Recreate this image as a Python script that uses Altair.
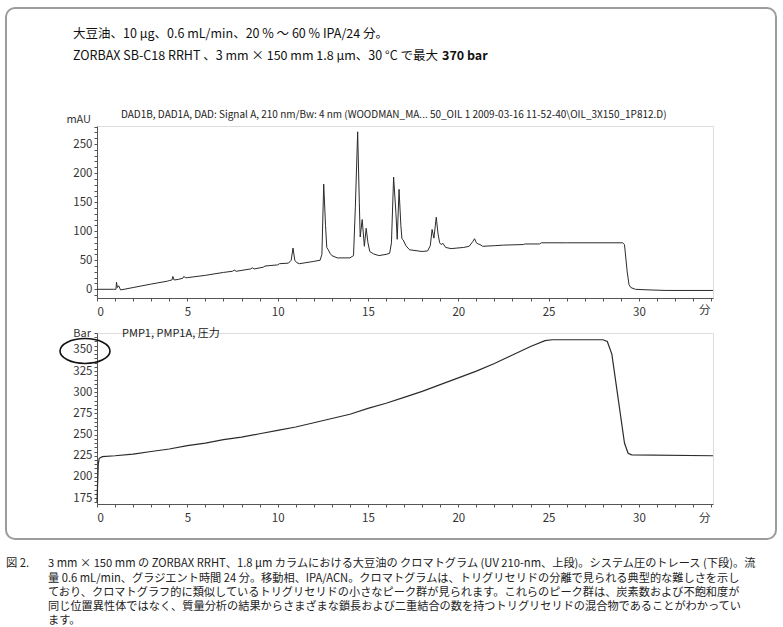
import altair as alt
import pandas as pd

# ---- data ----
uv_time = [0.0, 0.9, 1.05, 1.08, 1.13, 1.2, 1.26, 1.3, 1.5, 2.0, 3.0, 3.9, 4.0, 4.15, 4.2, 4.27,
           4.5, 4.75, 4.8, 4.9, 5.0, 6.0, 7.0, 7.5, 7.6, 7.7, 8.5, 8.6, 8.7, 9.2, 9.3, 10.0, 10.1,
           10.6, 10.75, 10.85, 10.95, 11.05, 11.2, 12.0, 12.35, 12.45, 12.55, 12.65, 12.72, 12.8,
           12.9, 13.0, 13.3, 14.0, 14.2, 14.3, 14.43, 14.52, 14.57, 14.68, 14.76, 14.8, 14.9, 15.0,
           15.1, 15.3, 15.6, 16.0, 16.2, 16.3, 16.42, 16.55, 16.62, 16.72, 16.82, 16.88, 16.95,
           17.1, 17.3, 18.0, 18.3, 18.45, 18.55, 18.65, 18.78, 18.88, 18.97, 19.05, 19.15, 19.3,
           19.6, 20.3, 20.6, 20.8, 20.9, 21.0, 21.1, 21.2, 21.35, 22.0, 22.5, 23.6, 23.7, 24.5,
           24.6, 26.0, 29.1, 29.2, 29.35, 29.45, 29.55, 29.8, 30.5, 31.5, 34.1]
uv_mau = [0, 0, 0, 12, 3, 6, 2, -1, 0, 3, 9, 14, 15, 16, 22, 16,
          17, 19, 22, 20, 20, 24, 29, 31, 33, 31, 35, 37, 35, 38, 40, 42, 44,
          45, 50, 71, 50, 46, 44, 48, 50, 60, 181, 110, 72, 68,
          62, 58, 54, 54, 58, 140, 271, 150, 90, 120, 90, 74, 105, 80,
          65, 61, 58, 60, 62, 80, 193, 130, 86, 172, 110, 87, 85,
          75, 68, 65, 66, 75, 103, 88, 124, 95, 80, 77, 79, 72,
          70, 72, 74, 82, 87, 80, 78, 77, 74, 75, 76, 77, 78, 78,
          80, 80, 80, 77, 30, 8, 3, 0, -1, -2, -2]

p_time = [0.0, 0.03, 0.07, 0.12, 0.3, 1.0, 2.0, 3.0, 4.0, 5.0, 6.0, 7.0, 8.0, 9.0, 10.0, 11.0,
          12.0, 13.0, 14.0, 15.0, 16.0, 17.0, 18.0, 19.0, 20.0, 21.0, 22.0, 23.0, 24.0, 24.8,
          25.2, 28.0, 28.25, 28.5, 29.2, 29.4, 29.6, 34.1]
p_bar = [170, 190, 215, 222, 224, 225, 227, 230, 233, 237, 240, 244, 247, 251, 255, 259,
         264, 269, 274, 281, 287, 294, 301, 309, 317, 325, 334, 344, 354, 361,
         362, 362, 360, 345, 240, 228, 226, 225]

x_ticks = list(range(0, 35))
uv_ticks = list(range(-10, 281, 10))
p_ticks = list(range(170, 371, 5))

header1 = "大豆油、10 µg、0.6 mL/min、20 % ～ 60 % IPA/24 分。"
header2 = "ZORBAX SB-C18 RRHT 、3 mm × 150 mm 1.8 µm、30 °C で最大"
header2b = "370 bar"
uv_title = "DAD1B, DAD1A, DAD: Signal A, 210 nm/Bw: 4 nm (WOODMAN_MA... 50_OIL 1 2009-03-16 11-52-40\\OIL_3X150_1P812.D)"
p_title = "PMP1, PMP1A, 圧力"
fig_label = "図 2."
caption_lines = [
    "3 mm × 150 mm の ZORBAX RRHT、1.8 µm カラムにおける大豆油の クロマトグラム (UV 210-nm、上段)。システム圧のトレース (下段)。流",
    "量 0.6 mL/min、グラジエント時間 24 分。移動相、IPA/ACN。クロマトグラムは、トリグリセリドの分離で見られる典型的な難しさを示し",
    "ており、クロマトグラフ的に類似しているトリグリセリドの小さなピーク群が見られます。これらのピーク群は、炭素数および不飽和度が",
    "同じ位置異性体ではなく、質量分析の結果からさまざまな鎖長および二重結合の数を持つトリグリセリドの混合物であることがわかってい",
    "ます。",
]

FONT = "Noto Sans CJK JP, sans-serif"
LINE = "#2b2b2b"
AX = "#555555"

uv_df = pd.DataFrame({"t": uv_time, "v": uv_mau})
p_df = pd.DataFrame({"t": p_time, "v": p_bar})
one = alt.Data(values=[{}])

W = 616
H1 = 172
H2 = 171


def xaxis():
    return alt.Axis(values=x_ticks, labelExpr="datum.value % 5 == 0 && datum.value <= 30 ? datum.label : ''",
                    title=None, grid=False, tickSize=3, labelPadding=5, domainColor=AX, tickColor=AX,
                    labelColor="#333", labelFont=FONT, labelFontSize=11.5)


def yaxis(vals, step):
    return alt.Axis(values=vals, labelExpr=f"datum.value % {step} == 0 ? datum.label : ''",
                    title=None, grid=False, tickSize=3, labelPadding=2, domainColor=AX, tickColor=AX,
                    labelColor="#333", labelFont=FONT, labelFontSize=11.5)


def txt(text, x, y, size, align="left", weight="normal", color="#111"):
    return alt.Chart(one).mark_text(text=text, align=align, baseline="middle", fontSize=size,
                                    fontWeight=weight, font=FONT, color=color).encode(
        x=alt.value(x), y=alt.value(y))


# ---- top panel ----
uv_line = alt.Chart(uv_df).mark_line(color=LINE, strokeWidth=1).encode(
    x=alt.X("t:Q", scale=alt.Scale(domain=[0, 34.1], nice=False, zero=False), axis=xaxis()),
    y=alt.Y("v:Q", scale=alt.Scale(domain=[-15, 281], nice=False, zero=False), axis=yaxis(uv_ticks, 50)),
)
frame = alt.Chart(one).mark_rect(fillOpacity=0, stroke="#9c9c9c", strokeWidth=2, cornerRadius=9).encode(
    x=alt.value(-91), x2=alt.value(679), y=alt.value(-118), y2=alt.value(413))

top = alt.layer(
    frame,
    uv_line,
    txt(header1, -24, -92, 12.5),
    txt(header2, -24, -70, 12.5),
    txt(header2b, 345, -70, 12.5, weight="bold"),
    txt(uv_title, 24, -11, 10, color="#222"),
    txt("mAU", -6, -6, 11, align="right", color="#333"),
    txt("分", 602, H1 + 13, 11.5, color="#333"),
).properties(width=W, height=H1)

# ---- bottom panel ----
p_line = alt.Chart(p_df).mark_line(color=LINE, strokeWidth=1.2).encode(
    x=alt.X("t:Q", scale=alt.Scale(domain=[0, 34.1], nice=False, zero=False), axis=xaxis()),
    y=alt.Y("v:Q", scale=alt.Scale(domain=[168, 370], nice=False, zero=False), axis=yaxis(p_ticks, 25)),
)
ellipse = alt.Chart(one).mark_point(
    shape="M -1 0 C -1 -0.276 -0.552 -0.5 0 -0.5 C 0.552 -0.5 1 -0.276 1 0 C 1 0.276 0.552 0.5 0 0.5 C -0.552 0.5 -1 0.276 -1 0 Z",
    size=2500, filled=False, stroke="#111", strokeWidth=1.6, opacity=1).encode(
    x=alt.value(-12), y=alt.value(18))

cap_y = [231, 245.5, 260, 274, 288]
cap_layers = [txt(fig_label, -91, cap_y[0], 11.3, color="#222")]
for i, line in enumerate(caption_lines):
    cap_layers.append(txt(line, -49, cap_y[i], 11.2, color="#222"))

bottom = alt.layer(
    p_line,
    ellipse,
    txt("Bar", -6, 1, 11, align="right", color="#333"),
    txt(p_title, 25, 1, 11, color="#222"),
    txt("分", 602, H2 + 15, 11.5, color="#333"),
    *cap_layers,
).properties(width=W, height=H2)

chart = alt.vconcat(top, bottom, spacing=35, bounds="flush").properties(
    padding={"left": 4, "top": 6, "right": 0, "bottom": 0}
).configure_view(stroke=None).configure(background="white")

chart.save("out.html", embed_options={"renderer": "svg", "actions": False})
